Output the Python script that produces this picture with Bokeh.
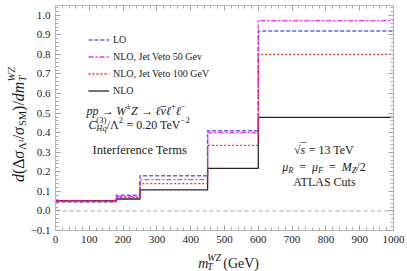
import math
from bokeh.plotting import figure
from bokeh.layouts import row, column
from bokeh.models import (Range1d, LinearAxis, SingleIntervalTicker, CustomJSTickFormatter,
                          CustomLabelingPolicy, Span, Label, Legend, LegendItem)
from bokeh.embed import file_html
from bokeh.resources import INLINE

# ---------------- data ----------------
bin_edges = [0, 180, 250, 450, 600, 1000]
lo        = [0.045, 0.080, 0.180, 0.410, 0.920]
nlo_jv50  = [0.052, 0.073, 0.160, 0.400, 0.973]
nlo_jv100 = [0.052, 0.068, 0.140, 0.335, 0.800]
nlo       = [0.052, 0.061, 0.108, 0.218, 0.478]
series_labels = ["LO", "NLO, Jet Veto 50 Gev", "NLO, Jet Veto 100 GeV", "NLO"]
x_lim = (0, 1000)
y_lim = (-0.1, 1.05)

# ---------------- layout (page pixels) ----------------
FONT = "Liberation Serif"
TXT = "#1a1a1a"
AX = "#b8b8b8"
YLAB_W = 27                  # strip holding the y title
MAIN_W, MAIN_H = 380, 247
XLAB_H = 24
FW, FH = 340, 225
BL = 53 - YLAB_W
BT = 5
BR = MAIN_W - BL - FW
BB = MAIN_H - BT - FH
FX0, FY0 = 53, 5             # frame top-left, page pixels


def main_xy(px, py):
    x = x_lim[0] + (px - FX0) / FW * (x_lim[1] - x_lim[0])
    y = y_lim[1] - (py - FY0) / FH * (y_lim[1] - y_lim[0])
    return x, y


WID = {' ': 250, '(': 333, ')': 333, '/': 278, '=': 564, '.': 250, '+': 564, '\u2212': 564,
       '\u2192': 1000, '\u00b1': 564, '\u00b2': 300, 'A': 722, 'C': 667, 'G': 722, 'L': 611,
       'M': 889, 'S': 556, 'T': 611, 'V': 722, 'W': 944, 'Z': 611, 'H': 722, 'F': 556,
       'R': 667, 'I': 333, 'a': 444, 'c': 444, 'd': 500, 'e': 444, 'f': 333, 'm': 778,
       'n': 500, 'p': 500, 'q': 500, 'r': 333, 's': 389, 't': 278, 'u': 500, 'v': 500,
       '\u0394': 612, '\u039b': 722, '\u03c3': 550, '\u03bc': 500, '\u03bd': 450,
       '\u2113': 420, '\u221a': 549, '\u2002': 500, '\u00af': 333}
WID_IT = {'W': 833, 'Z': 556, 'T': 556, 'M': 833, 'R': 611, 'F': 611, 'm': 722}


def tw(s, size, style):
    tot = 0
    for ch in s:
        w = WID.get(ch, 500)
        if style == "italic" and ch in WID_IT:
            w = WID_IT[ch]
        tot += w
    return tot / 1000.0 * size


def piece_width(pc):
    if pc[0] == "stack":
        return max(tw(t, s, st) for (t, s, d, st) in pc[1])
    t, s, d, st = pc
    return tw(t, s, st)


def rich(fig, conv, pieces, px, py, rotated=False):
    total = sum(piece_width(pc) for pc in pieces)
    pos = -total / 2
    for pc in pieces:
        subs = pc[1] if pc[0] == "stack" else [pc]
        for (t, s, d, st) in subs:
            lead = (len(t) - len(t.lstrip(' '))) * 0.3 * s
            txt = t.strip(' ')
            if rotated:
                lx, ly = px - d, py - pos - lead
                ang = math.pi / 2
            else:
                lx, ly = px + pos + lead, py - d
                ang = 0
            x, y = conv(lx, ly)
            fig.add_layout(Label(x=x, y=y, text=txt, text_font=FONT,
                                 text_font_size=f"{s}px", text_font_style=st,
                                 text_align="left", text_baseline="alphabetic",
                                 angle=ang, text_color=TXT))
        pos += piece_width(pc)


# ---------------- main figure ----------------
p = figure(width=MAIN_W, height=MAIN_H,
           x_range=Range1d(*x_lim), y_range=Range1d(*y_lim),
           output_backend="svg", toolbar_location=None,
           min_border_left=BL, min_border_top=BT, min_border_right=BR, min_border_bottom=BB)
p.grid.visible = False
p.outline_line_color = AX

no_labels = CustomLabelingPolicy(code="""
for (const i of indices) { indices.unset(i) }
return indices
""")


def style_axis(ax, labels=True):
    ax.axis_line_color = AX
    ax.major_tick_line_color = "#999999"
    ax.minor_tick_line_color = "#aaaaaa"
    ax.major_tick_in = 5
    ax.major_tick_out = 0
    ax.minor_tick_in = 3
    ax.minor_tick_out = 0
    ax.major_label_text_font = FONT
    ax.major_label_text_color = TXT
    if labels:
        ax.major_label_text_font_size = "11px"
        ax.major_label_standoff = 5
    else:
        ax.major_label_text_font_size = "1px"
        ax.major_label_standoff = 0
        ax.major_label_policy = no_labels


p.xaxis.ticker = SingleIntervalTicker(interval=100, num_minor_ticks=5)
p.yaxis.ticker = SingleIntervalTicker(interval=0.1, num_minor_ticks=5)
p.yaxis.formatter = CustomJSTickFormatter(code="return tick.toFixed(1).replace('-', '\u2212');")
style_axis(p.xaxis[0])
style_axis(p.yaxis[0])

top_ax = LinearAxis(ticker=SingleIntervalTicker(interval=100, num_minor_ticks=5))
right_ax = LinearAxis(ticker=SingleIntervalTicker(interval=0.1, num_minor_ticks=5))
style_axis(top_ax, labels=False)
style_axis(right_ax, labels=False)
p.add_layout(top_ax, "above")
p.add_layout(right_ax, "right")

p.add_layout(Span(location=0, dimension="width", line_color="#aaaaaa",
                  line_dash="4 3", line_width=1))

styles = [
    dict(line_color="#000000", line_width=1.3, line_dash="solid", line_alpha=0.85),    # NLO
    dict(line_color="#3838ff", line_width=1.4, line_dash="4 2", line_alpha=0.8),       # LO
    dict(line_color="#ff00ff", line_width=1.3, line_dash="5 2 2 2", line_alpha=0.85),  # JV50
    dict(line_color="#ff1a1a", line_width=1.3, line_dash="2 2", line_alpha=0.9),       # JV100
]
order = [nlo, lo, nlo_jv50, nlo_jv100]
rends = []
for vals, st in zip(order, styles):
    rends.append(p.step(x=bin_edges, y=vals + [vals[-1]], mode="after", **st))
r_nlo, r_lo, r_jv50, r_jv100 = rends

legend = Legend(items=[LegendItem(label=series_labels[0], renderers=[r_lo]),
                       LegendItem(label=series_labels[1], renderers=[r_jv50]),
                       LegendItem(label=series_labels[2], renderers=[r_jv100]),
                       LegendItem(label=series_labels[3], renderers=[r_nlo])],
                location=(33, 131), padding=0, margin=0, spacing=0,
                glyph_width=21, glyph_height=17, label_height=17, label_standoff=4,
                label_text_font=FONT, label_text_font_size="10px", label_text_color=TXT,
                background_fill_alpha=0, border_line_alpha=0)
p.add_layout(legend)

N, I = "normal", "italic"
rich(p, main_xy, [("pp", 12, 0, I), (" \u2192 ", 12, 0, N), ("W", 12, 0, I), ("\u00b1", 8.5, 5, N),
                  ("Z", 12, 0, I), (" \u2192 ", 12, 0, N), ("\u2113", 12, 0, I),
                  ("stack", [("\u03bd", 12, 0, I), ("\u00af", 12, -1, N)]),
                  ("\u2113", 12, 0, I), ("+", 8.5, 5, N), ("\u2113", 12, 0, I),
                  ("\u2212", 8.5, 5, N)], 134, 110)
rich(p, main_xy, [("C", 12, 0, I), ("stack", [("(3)", 8.5, 5, N), ("Hq", 8.5, -3.5, I)]),
                  ("/\u039b", 12, 0, N), ("2", 8.5, 5, N), (" = 0.20 TeV", 12, 0, N),
                  ("\u22122", 8.5, 5, N)], 137, 124)
rich(p, main_xy, [("Interference Terms", 12.5, 0, N)], 138, 149)
rich(p, main_xy, [("\u221a", 12, 0, N), ("stack", [("s", 12, 0, I), ("\u00af", 12, 1.5, N)]),
                  (" = 13 TeV", 12, 0, N)], 323, 149)
rich(p, main_xy, [("\u03bc", 12, 0, I), ("R", 8.5, -3, I), ("\u2002=\u2002", 12, 0, N),
                  ("\u03bc", 12, 0, I), ("F", 8.5, -3, I), ("\u2002=\u2002", 12, 0, N),
                  ("M", 12, 0, I), ("Z", 8.5, -3, I), ("/2", 12, 0, N)], 323, 166)
rich(p, main_xy, [("ATLAS Cuts", 12, 0, N)], 324, 181)


# ---------------- title strips ----------------
def strip(w, h):
    f = figure(width=w, height=h, x_range=Range1d(0, w), y_range=Range1d(h, 0),
               output_backend="svg", toolbar_location=None,
               x_axis_type=None, y_axis_type=None, min_border=0)
    f.outline_line_color = None
    f.grid.visible = False
    return f


ylab = strip(YLAB_W, MAIN_H + XLAB_H)
rich(ylab, lambda px, py: (px, py),
     [("d", 16, 0, I), ("(\u0394", 16, 0, N), ("\u03c3", 16, 0, I), ("\u039b\u00b2", 10.5, -3.5, N),
      ("/", 16, 0, N), ("\u03c3", 16, 0, I), ("SM", 10.5, -3.5, N), (")/", 16, 0, N),
      ("dm", 16, 0, I), ("stack", [("WZ", 10.5, 7, I), ("T", 10.5, -3.5, I)])],
     18, 124, rotated=True)

xlab = strip(MAIN_W, XLAB_H)
rich(xlab, lambda px, py: (px - YLAB_W, py - MAIN_H),
     [("m", 14, 0, I), ("stack", [("WZ", 10, 6.5, I), ("T", 10, -3, I)]),
      (" (GeV)", 14, 0, N)], 219, 263)

layout = row(ylab, column(p, xlab, spacing=0), spacing=0)
open("out.html", "w").write(file_html(layout, INLINE))
